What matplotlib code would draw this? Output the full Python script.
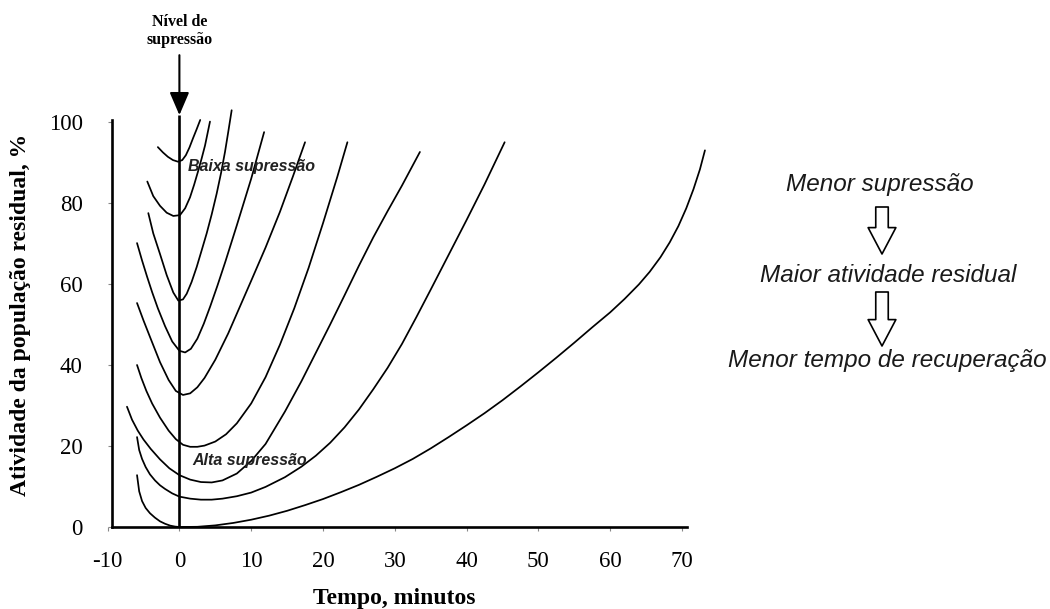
import matplotlib
matplotlib.use("Agg")
import matplotlib.pyplot as plt

# ---- data ----
curve_a_x = [-3.0, -2.3, -1.6, -0.9, -0.2, 0.4, 0.9, 1.4, 1.9, 2.4, 2.9]
curve_a_y = [93.8, 92.5, 91.4, 90.6, 90.2, 90.6, 91.8, 93.7, 96.0, 98.2, 100.5]

curve_b_x = [-4.47, -3.64, -2.70, -1.77, -0.85, 0.08, 0.8, 1.48, 2.05, 2.63, 3.1, 3.57, 4.26]
curve_b_y = [85.3, 81.7, 79.3, 77.6, 76.8, 77.0, 78.7, 81.4, 84.5, 88.0, 91.0, 94.2, 100.1]

curve_c_x = [-4.33, -3.64, -2.70, -1.77, -0.85, -0.15, 0.5, 1.02, 1.7, 2.41, 3.1, 3.8, 4.5, 5.19, 5.8, 6.35, 6.8, 7.28]
curve_c_y = [77.5, 72.5, 67.4, 62.2, 57.9, 55.9, 56.2, 57.6, 60.5, 64.2, 68.3, 72.5, 77.2, 82.3, 87.4, 92.6, 97.5, 102.9]

curve_d_x = [-5.9, -5.2, -4.5, -3.8, -3.0, -2.0, -1.0, 0.0, 0.8, 1.6, 2.5, 3.4, 4.3, 5.3, 6.4, 8.0, 10.0, 11.8]
curve_d_y = [70.1, 65.8, 61.8, 58.0, 54.0, 49.6, 45.8, 43.5, 43.1, 44.0, 46.5, 50.2, 54.5, 59.6, 65.5, 74.5, 86.0, 97.5]

curve_e_x = [-5.9, -5.0, -4.0, -2.7, -1.5, -0.5, 0.5, 1.5, 2.5, 3.5, 5.0, 6.8, 8.4, 10.0, 12.0, 14.0, 15.8, 17.5]
curve_e_y = [55.3, 51.0, 46.5, 40.7, 36.3, 33.6, 32.6, 33.0, 34.5, 36.8, 41.3, 47.8, 54.3, 60.8, 69.0, 77.8, 86.5, 95.0]

curve_f_x = [-5.9, -5.3, -4.6, -3.8, -2.7, -1.5, -0.5, 0.5, 1.5, 2.5, 3.5, 5.0, 6.5, 8.0, 10.0, 12.0, 14.0, 16.0, 18.0, 20.0, 22.0, 23.4]
curve_f_y = [40.0, 36.8, 33.6, 30.5, 27.0, 23.8, 21.7, 20.3, 19.8, 19.8, 20.1, 21.1, 22.9, 25.6, 30.5, 37.0, 45.0, 54.0, 64.0, 75.0, 86.5, 95.0]

curve_g_x = [-7.3, -6.6, -5.8, -5.0, -4.0, -2.7, -1.4, 0.0, 1.5, 3.0, 4.5, 6.0, 8.0, 10.0, 12.0, 14.7, 17.0, 19.0, 21.0, 23.0, 25.0, 27.0, 29.0, 31.0, 33.5]
curve_g_y = [29.7, 26.5, 23.8, 21.6, 19.3, 16.7, 14.5, 12.8, 11.7, 11.1, 11.0, 11.5, 13.2, 16.3, 20.5, 28.5, 36.0, 43.0, 50.0, 57.2, 64.5, 71.5, 78.0, 84.3, 92.6]

curve_h_x = [-5.9, -5.6, -5.2, -4.7, -4.1, -3.4, -2.7, -2.0, -1.0, 0.0, 1.5, 3.0, 4.5, 6.0, 8.0, 10.0, 12.0, 14.7, 17.0, 19.0, 21.0, 23.0, 25.0, 27.0, 29.0, 31.0, 33.0, 35.0, 37.5, 40.0, 42.5, 45.3]
curve_h_y = [22.2, 19.0, 16.8, 14.8, 13.0, 11.5, 10.3, 9.4, 8.3, 7.5, 7.0, 6.75, 6.75, 7.0, 7.6, 8.5, 9.9, 12.3, 14.9, 17.6, 20.8, 24.6, 29.0, 34.0, 39.3, 45.2, 51.8, 58.6, 67.2, 75.8, 84.6, 95.0]

curve_i_x = [-5.9, -5.6, -5.2, -4.7, -4.1, -3.4, -2.7, -2.0, -1.3, -0.6, 0.0, 2.5, 5.0, 7.5, 10.0, 12.5, 15.0, 17.5, 20.0, 22.5, 25.0, 27.5, 30.0, 32.5, 35.0, 37.5, 40.0, 42.5, 45.0, 47.5, 50.0, 52.5, 55.0, 57.5, 60.0, 62.0, 64.0, 65.5, 67.0, 68.3, 69.5, 70.6, 71.6, 72.5, 73.2]
curve_i_y = [12.8, 8.8, 6.4, 4.7, 3.4, 2.3, 1.4, 0.8, 0.35, 0.1, 0.0, 0.05, 0.4, 1.0, 1.8, 2.8, 4.0, 5.4, 6.9, 8.6, 10.4, 12.4, 14.5, 16.8, 19.4, 22.2, 25.1, 28.1, 31.3, 34.7, 38.2, 41.8, 45.5, 49.3, 53.0, 56.3, 59.9, 63.0, 66.6, 70.3, 74.3, 78.7, 83.4, 88.3, 93.0]

curves = [
    (curve_a_x, curve_a_y), (curve_b_x, curve_b_y), (curve_c_x, curve_c_y),
    (curve_d_x, curve_d_y), (curve_e_x, curve_e_y), (curve_f_x, curve_f_y),
    (curve_g_x, curve_g_y), (curve_h_x, curve_h_y), (curve_i_x, curve_i_y),
]

x_ticks = [-10, 0, 10, 20, 30, 40, 50, 60, 70]
y_ticks = [0, 20, 40, 60, 80, 100]

x_label = "Tempo, minutos"
y_label = "Atividade da população residual, %"
top_label = "Nível de\nsupressão"
low_text = "Baixa supressão"
high_text = "Alta supressão"
right_texts = ["Menor supressão", "Maior atividade residual", "Menor tempo de recuperação"]

# ---- figure ----
W, H = 1050, 609
fig = plt.figure(figsize=(W / 100, H / 100), dpi=100)
fig.patch.set_facecolor("white")
ax = fig.add_axes([107.6 / W, 82 / H, 599.5 / W, 421.2 / H])
ax.set_xlim(-10, 73.5)
ax.set_ylim(0, 104)

serif = ["Liberation Serif", "DejaVu Serif"]
sans = ["Liberation Sans", "DejaVu Sans"]

for cx, cy in curves:
    ax.plot(cx, cy, color="black", lw=1.25, clip_on=False,
            solid_joinstyle="round", solid_capstyle="round")

# vertical suppression line at t = 0
ax.vlines(0, 0, 101.7, color="black", lw=1.9, clip_on=False)

# spines
for s in ("top", "right"):
    ax.spines[s].set_visible(False)
ax.spines["left"].set_position(("data", -9.4))
ax.spines["left"].set_bounds(0, 100.5)
ax.spines["bottom"].set_bounds(-9.4, 70.7)
for s in ("left", "bottom"):
    ax.spines[s].set_linewidth(1.9)

ax.set_xticks(x_ticks)
ax.set_xticklabels([str(v) for v in x_ticks])
ax.set_yticks(y_ticks)
ax.set_yticklabels([str(v) for v in y_ticks])
ax.tick_params(axis="both", direction="out", length=3, width=0.8, color="#888888")
ax.tick_params(axis="x", pad=14)
ax.tick_params(axis="y", pad=18)
for lab in ax.get_xticklabels() + ax.get_yticklabels():
    lab.set_fontfamily(serif)
    lab.set_fontsize(16.5)

ax.set_xlabel(x_label, fontfamily=serif, fontsize=17, fontweight="bold")
ax.set_ylabel(y_label, fontfamily=serif, fontsize=17, fontweight="bold")
ax.xaxis.set_label_coords(0.4777, -0.145)
ax.yaxis.set_label_coords(-0.128, 0.503)

# arrow + label at the top
ax.annotate("", xy=(0, 101.7), xytext=(0, 116.5),
            arrowprops=dict(arrowstyle="-|>,head_length=1.4,head_width=0.6",
                            color="black", lw=1.5, shrinkA=0, shrinkB=0,
                            mutation_scale=10),
            annotation_clip=False)
ax.text(0, 122.5, top_label, ha="center", va="center", fontfamily=serif,
        fontsize=11.5, fontweight="bold", linespacing=1.15, clip_on=False)

# curve annotations
ax.text(1.2, 89, low_text, ha="left", va="center", fontfamily=sans,
        fontsize=11.5, fontweight="bold", fontstyle="italic", color="#222222")
ax.text(1.8, 16.5, high_text, ha="left", va="center", fontfamily=sans,
        fontsize=11.5, fontweight="bold", fontstyle="italic", color="#222222")

# right-hand explanatory text with hollow arrows (figure pixels, origin bottom-left)
text_pos = [(880, H - 185), (888, H - 275), (887, H - 360)]
for (tx, ty), t in zip(text_pos, right_texts):
    fig.text(tx / W, ty / H, t, ha="center", va="center", fontfamily=sans,
             fontsize=17.5, fontstyle="italic", color="#1a1a1a")

arrow_spans = [((882, H - 207), (882, H - 254)), ((882, H - 292), (882, H - 346))]
for (x0, y0), (x1, y1) in arrow_spans:
    fig.add_artist(matplotlib.patches.FancyArrowPatch(
        (x0, y0), (x1, y1), transform=None,
        arrowstyle="simple,head_length=1.9,head_width=2.0,tail_width=0.9",
        mutation_scale=10, facecolor="white", edgecolor="black", lw=1.2,
        shrinkA=0, shrinkB=0))

fig.savefig("out.png", dpi=100, facecolor="white")
